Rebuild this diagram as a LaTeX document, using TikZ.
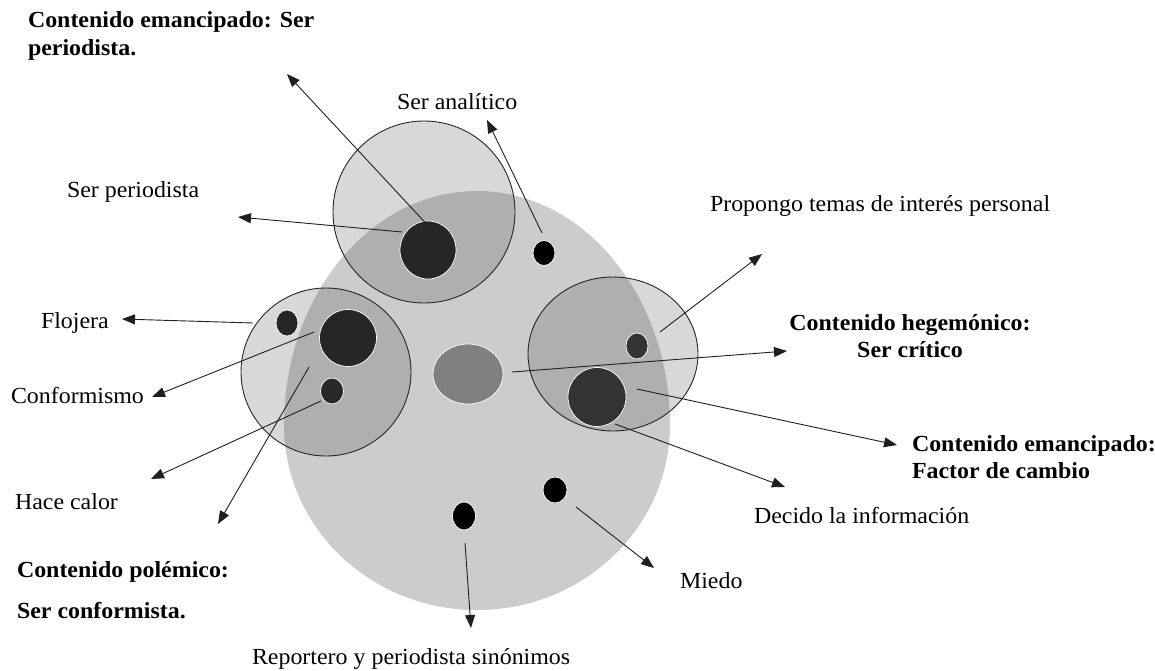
\documentclass[tikz,border=0pt]{standalone}
\usepackage{fontspec}
\setmainfont{Liberation Serif}[FakeStretch=1.04]
\usetikzlibrary{arrows.meta}
\begin{document}
\begin{tikzpicture}[x=1pt,y=-1pt,
  lbl/.style={inner sep=0pt,outer sep=0pt,font=\fontsize{23}{28}\selectfont,anchor=base west},
  lblb/.style={lbl,font=\fontsize{23}{28}\selectfont\bfseries},
  conn/.style={line width=0.9pt,draw=black!88,-{Triangle[length=13pt,width=10pt]}},
  halo/.style={fill=black!76,fill opacity=0.2,draw=black!85,line width=0.9pt},
  dot/.style={draw=white,line width=0.7pt}]
\useasboundingbox (0,0) rectangle (1155,670);
% big egg-shaped area
\definecolor{bigc}{gray}{0.80}
\begin{scope}
  \clip (0,0) rectangle (1155,426);
  \fill[bigc] (477,425) ellipse[x radius=193,y radius=234];
\end{scope}
\begin{scope}
  \clip (0,424) rectangle (1155,670);
  \fill[bigc] (477,425) ellipse[x radius=193,y radius=185];
\end{scope}
% three halo circles
\path[halo] (424,212) ellipse[x radius=91,y radius=91];
\path[halo] (326,372) ellipse[x radius=85,y radius=84];
\path[halo] (613,354) ellipse[x radius=85,y radius=77];
% dots
\path[dot,fill=black!85] (428,250) ellipse[x radius=28,y radius=29];
\path[dot,fill=black] (544,253) ellipse[x radius=11,y radius=12.5];
\path[dot,fill=black!85] (287,323) ellipse[x radius=11,y radius=13];
\path[dot,fill=black!85] (348,338) ellipse[x radius=28.5,y radius=28.5];
\path[dot,fill=black!84] (332,391) ellipse[x radius=11.5,y radius=13];
\path[dot,fill=black!50] (468,374) ellipse[x radius=35,y radius=30];
\path[dot,fill=black!80] (637,346) ellipse[x radius=11,y radius=13];
\path[dot,fill=black!80] (597,397) ellipse[x radius=29,y radius=29.5];
\path[dot,fill=black] (555,490) ellipse[x radius=12,y radius=13];
\path[dot,fill=black] (464,516) ellipse[x radius=11.5,y radius=14];
% labels
\node[lblb] (em1a) at (28,27) {Contenido emancipado: Ser};
\node[lblb] (em1b) at (28,55) {periodista.};
\node[lbl] (sperio) at (67,197) {Ser periodista};
\node[lbl] (sanal) at (397,109) {Ser analítico};
\node[lbl] (prop) at (710,211) {Propongo temas de interés personal};
\node[lbl] (floj) at (41,328) {Flojera};
\node[lbl] (conf) at (11,403) {Conformismo};
\node[lbl] (calor) at (15,509) {Hace calor};
\node[lblb] (polA) at (17,577) {Contenido polémico:};
\node[lblb] (polB) at (17,618) {Ser conformista.};
\node[lblb,anchor=base] (hegA) at (910,330) {Contenido hegemónico:};
\node[lblb,anchor=base] (hegB) at (910,357) {Ser crítico};
\node[lblb] (em2a) at (912,451) {Contenido emancipado:};
\node[lblb] (em2b) at (912,478) {Factor de cambio};
\node[lbl] (decido) at (754,523) {Decido la información};
\node[lbl] (miedo) at (680,588) {Miedo};
\node[lbl] (repo) at (252,664) {Reportero y periodista sinónimos};
% connector end points
\coordinate (s1) at (433,231); \coordinate (e1) at (287,74);
\coordinate (s2) at (402,232); \coordinate (e2) at (238,217);
\coordinate (s3) at (542,233); \coordinate (e3) at (487,120);
\coordinate (s4) at (253,323); \coordinate (e4) at (122,319);
\coordinate (s5) at (314,332); \coordinate (e5) at (152,397);
\coordinate (s6) at (321,401); \coordinate (e6) at (151,479);
\coordinate (s7) at (309,367); \coordinate (e7) at (218,524);
\coordinate (s8) at (660,332); \coordinate (e8) at (762,254);
\coordinate (s9) at (512,372); \coordinate (e9) at (787,351);
\coordinate (s10) at (637,389); \coordinate (e10) at (897,445);
\coordinate (s11) at (615,424); \coordinate (e11) at (785,487);
\coordinate (s12) at (576,507); \coordinate (e12) at (654,568);
\coordinate (s13) at (465,543); \coordinate (e13) at (471,628);
\foreach \i in {1,...,13} {\draw[conn] (s\i) -- (e\i);}
\end{tikzpicture}
\end{document}
